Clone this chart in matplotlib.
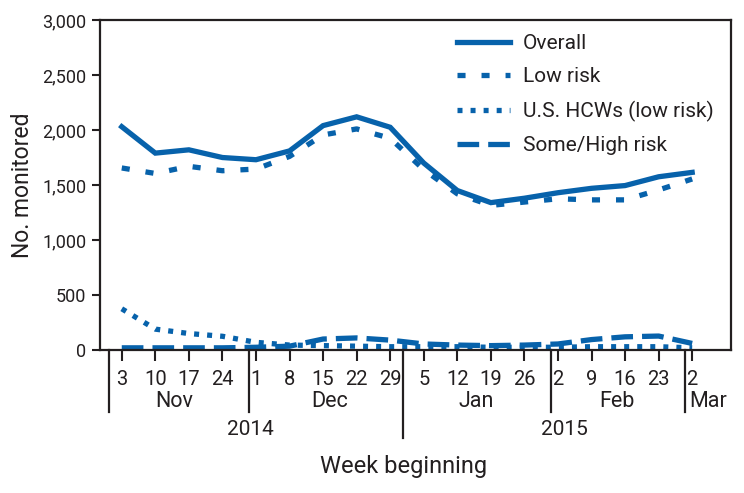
import matplotlib
matplotlib.use('Agg')
import matplotlib.pyplot as plt

plt.rcParams['font.family'] = ['Roboto', 'DejaVu Sans']
plt.rcParams['lines.scale_dashes'] = False

# weekly monitoring counts, week beginning Nov 3 2014 .. Mar 2 2015
weeks = ['3', '10', '17', '24', '1', '8', '15', '22', '29',
         '5', '12', '19', '26', '2', '9', '16', '23', '2']
overall = [2030, 1790, 1820, 1750, 1730, 1810, 2040, 2120, 2025,
           1700, 1450, 1340, 1380, 1430, 1470, 1495, 1575, 1615]
low_risk = [1655, 1605, 1670, 1630, 1645, 1760, 1955, 2010, 1925,
            1640, 1420, 1315, 1345, 1375, 1365, 1365, 1455, 1555]
us_hcw = [375, 190, 150, 125, 70, 45, 40, 35, 30,
          30, 30, 25, 25, 25, 30, 30, 30, 20]
some_high = [20, 20, 20, 20, 25, 35, 100, 110, 90,
             55, 45, 40, 45, 55, 95, 120, 127, 60]

months = ['Nov', 'Dec', 'Jan', 'Feb', 'Mar']
month_bounds = [-0.37, 3.79, 8.39, 12.78, 16.78]
month_centers = [1.56, 6.2, 10.56, 14.76, 17.47]
years = ['2014', '2015']
year_centers = [3.84, 13.18]

blue = '#0762ab'
ink = '#231f20'

fig = plt.figure(figsize=(7.44, 4.93), dpi=100)
ax = fig.add_axes([0.1348, 0.29, 0.8474, 0.6694])

x = list(range(len(weeks)))
lw = 3.8
ax.plot(x, overall, color=blue, lw=lw, solid_joinstyle='miter', label='Overall')
ax.plot(x, low_risk, color=blue, lw=lw, dashes=(5.8, 11.5), label='Low risk')
ax.plot(x, us_hcw, color=blue, lw=lw, dashes=(3.6, 5.8), label='U.S. HCWs (low risk)')
ax.plot(x, some_high, color=blue, lw=lw, dashes=(15.6, 6.5), label='Some/High risk')

ax.set_xlim(-0.64, 18.15)
ax.set_ylim(0, 3000)
ax.set_yticks(range(0, 3001, 500))
ax.set_yticklabels(['{:,}'.format(v) for v in range(0, 3001, 500)])
ax.tick_params(axis='y', length=6, width=1.5, pad=4, labelsize=13, colors=ink)
ax.set_xticks(x)
ax.tick_params(axis='x', length=8, width=1.5, labelbottom=False, color=ink)
for s in ax.spines.values():
    s.set_linewidth(1.6)
    s.set_color(ink)

tr = ax.get_xaxis_transform()
for xi, w in zip(x, weeks):
    ax.text(xi, -0.088, w, transform=tr, ha='center', va='center', fontsize=14.5, color=ink)
for m, c in zip(months, month_centers):
    ax.text(c, -0.155, m, transform=tr, ha='center', va='center', fontsize=15.5, color=ink)
for i, b in enumerate(month_bounds):
    bottom = -0.267 if i == 2 else -0.188
    ax.plot([b, b], [0, bottom], transform=tr, color=ink, lw=1.6, clip_on=False)
for yr, c in zip(years, year_centers):
    ax.text(c, -0.242, yr, transform=tr, ha='center', va='center', fontsize=15, color=ink)

ax.set_ylabel('No. monitored', fontsize=16.5, color=ink, labelpad=6)
fig.text(0.542, 0.04, 'Week beginning', ha='center', va='baseline', fontsize=17, color=ink)

ax.legend(loc='upper left', bbox_to_anchor=(0.566, 0.957), frameon=False,
          fontsize=15, handlelength=2.55, handletextpad=0.62, labelspacing=0.68,
          borderpad=0, borderaxespad=0, labelcolor=ink)

fig.savefig('out.png', dpi=100)
